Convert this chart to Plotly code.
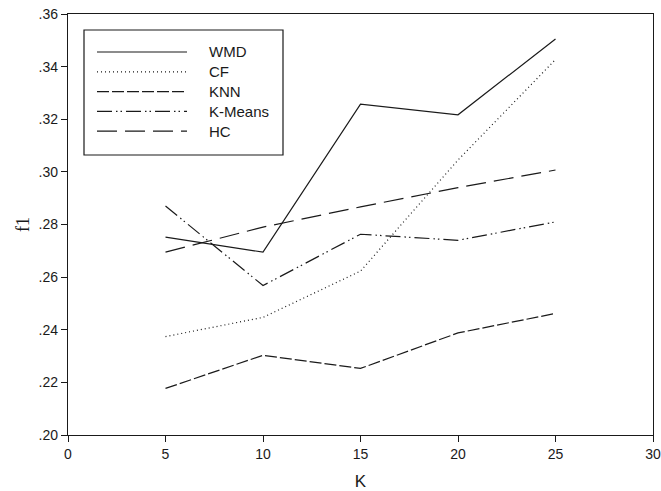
import plotly.graph_objects as go

k_values = [5, 10, 15, 20, 25]
series_names = ["WMD", "CF", "KNN", "K-Means", "HC"]
wmd = [0.2752, 0.2695, 0.3257, 0.3217, 0.3505]
cf = [0.2374, 0.2447, 0.2623, 0.3045, 0.3427]
knn = [0.2177, 0.2303, 0.2253, 0.2388, 0.2462]
kmeans = [0.2870, 0.2568, 0.2763, 0.2740, 0.2810]
hc = [0.2695, 0.2790, 0.2867, 0.2940, 0.3007]

x_ticks = [0, 5, 10, 15, 20, 25, 30]
y_ticks = [0.20, 0.22, 0.24, 0.26, 0.28, 0.30, 0.32, 0.34, 0.36]
y_tick_labels = [".20", ".22", ".24", ".26", ".28", ".30", ".32", ".34", ".36"]

series_values = [wmd, cf, knn, kmeans, hc]
dashes = ["solid", "1px,3px", "12px,3px", "15px,4px,1.5px,3px,1.5px,4px", "20px,8px"]

FONT = "Liberation Sans, Arial, sans-serif"
INK = "#1a1a1a"

fig = go.Figure()
for name, vals, dash in zip(series_names, series_values, dashes):
    fig.add_trace(go.Scatter(
        x=k_values, y=vals, name=name, mode="lines",
        line=dict(color=INK, width=1.2, dash=dash),
        showlegend=False,
    ))

FW, FH = 661, 491
L, R, T, B = 68, 653, 14, 435
W, H = R - L, B - T
def px(x):
    return (x - L) / W
def py(y):
    return (B - y) / H

shapes = [dict(type="rect", xref="paper", yref="paper",
               x0=px(84), x1=px(283), y0=py(155), y1=py(30),
               line=dict(color=INK, width=1.2), fillcolor="white", layer="above")]
annotations = []
for i, (name, dash) in enumerate(zip(series_names, dashes)):
    yy = 52 + i * 19.8
    shapes.append(dict(type="line", xref="paper", yref="paper",
                       x0=px(97), x1=px(187), y0=py(yy), y1=py(yy),
                       line=dict(color=INK, width=1.2, dash=dash), layer="above"))
    annotations.append(dict(xref="paper", yref="paper", x=px(207), y=py(yy),
                            text=name, showarrow=False, xanchor="left", yanchor="middle",
                            font=dict(family=FONT, size=15, color=INK)))

fig.update_layout(
    width=FW, height=FH,
    margin=dict(l=L, r=FW - R, t=T, b=FH - B),
    paper_bgcolor="white", plot_bgcolor="white",
    shapes=shapes, annotations=annotations,
    xaxis=dict(range=[0, 30], tickvals=x_ticks, ticks="outside", ticklen=6,
               tickcolor=INK, showline=True, linecolor=INK, linewidth=1.3, mirror=True,
               showgrid=False, zeroline=False, automargin=False, ticklabeloverflow="allow",
               tickfont=dict(family=FONT, size=14, color=INK),
               title=dict(text="K", font=dict(family=FONT, size=17, color=INK))),
    yaxis=dict(range=[0.20, 0.36], tickvals=y_ticks, ticktext=y_tick_labels, ticks="outside",
               ticklen=6, tickcolor=INK, showline=True, linecolor=INK, linewidth=1.3, mirror=True,
               showgrid=False, zeroline=False, automargin=False, ticklabeloverflow="allow",
               tickfont=dict(family=FONT, size=14, color=INK),
               title=dict(text="f1", standoff=4,
                          font=dict(family="Liberation Serif, Times New Roman, serif", size=18, color=INK))),
)

fig.write_html("out.html", config={"displayModeBar": False},
               post_script="document.body.style.margin='0';document.body.style.overflow='hidden';")
